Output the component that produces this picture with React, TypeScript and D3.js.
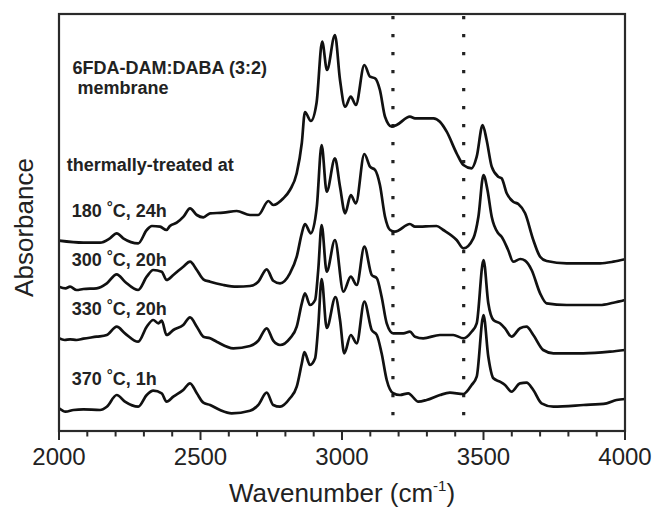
import React from "react";
import * as d3 from "d3";

// Wavenumber (cm-1), absorbance (a.u., curves vertically offset as plotted)
const series180: [number, number][] = [
  [2000, 1.903], [2086, 1.883], [2145, 1.883], [2180, 1.927], [2204, 1.977], [2227, 1.927],
  [2280, 1.877], [2310, 2.01], [2328, 2.05], [2357, 2.043], [2380, 2.01], [2392, 2.05],
  [2416, 2.083], [2440, 2.143], [2463, 2.227], [2487, 2.16], [2510, 2.137], [2534, 2.177],
  [2581, 2.183], [2628, 2.2], [2675, 2.16], [2704, 2.16], [2740, 2.3], [2757, 2.26],
  [2793, 2.327], [2816, 2.41], [2840, 2.577], [2858, 2.88], [2869, 3.19], [2890, 3.1],
  [2910, 3.28], [2930, 3.893], [2947, 3.61], [2975, 3.96], [2993, 3.51], [3011, 3.243],
  [3031, 3.343], [3049, 3.26], [3079, 3.66], [3099, 3.543], [3117, 3.527], [3134, 3.41],
  [3152, 3.143], [3176, 3.043], [3193, 3.06], [3240, 3.143], [3258, 3.127], [3323, 3.127],
  [3346, 3.093], [3370, 2.993], [3405, 2.777], [3429, 2.66], [3458, 2.627], [3476, 2.743],
  [3497, 3.06], [3511, 2.91], [3529, 2.643], [3552, 2.543], [3564, 2.527], [3582, 2.377],
  [3605, 2.293], [3623, 2.27], [3647, 2.177], [3676, 1.91], [3700, 1.743], [3723, 1.7],
  [3794, 1.677], [3912, 1.677], [3959, 1.693], [4000, 1.717],
];

const series300: [number, number][] = [
  [2000, 1.443], [2023, 1.427], [2039, 1.443], [2062, 1.41], [2086, 1.42], [2133, 1.427],
  [2169, 1.477], [2204, 1.567], [2233, 1.493], [2280, 1.41], [2310, 1.543], [2333, 1.61],
  [2363, 1.593], [2380, 1.51], [2404, 1.56], [2439, 1.643], [2463, 1.693], [2487, 1.61],
  [2510, 1.517], [2534, 1.493], [2581, 1.46], [2628, 1.443], [2675, 1.45], [2704, 1.493],
  [2734, 1.617], [2757, 1.503], [2781, 1.477], [2816, 1.577], [2840, 1.743], [2858, 1.977],
  [2869, 2.07], [2890, 1.977], [2911, 2.243], [2928, 2.86], [2946, 2.393], [2975, 2.727],
  [2993, 2.443], [3011, 2.177], [3031, 2.36], [3049, 2.277], [3079, 2.77], [3099, 2.643],
  [3117, 2.61], [3134, 2.46], [3152, 2.143], [3170, 2.01], [3187, 1.993], [3240, 2.07],
  [3258, 2.043], [3334, 2.05], [3358, 2.01], [3405, 1.91], [3429, 1.827], [3464, 1.927],
  [3482, 2.143], [3500, 2.56], [3514, 2.41], [3529, 2.143], [3552, 1.977], [3564, 1.943],
  [3587, 1.81], [3605, 1.693], [3630, 1.72], [3647, 1.703], [3670, 1.61], [3700, 1.377],
  [3723, 1.277], [3794, 1.26], [3912, 1.26], [3959, 1.283], [4000, 1.31],
];

const series330: [number, number][] = [
  [2000, 0.927], [2020, 0.91], [2039, 0.917], [2062, 0.91], [2086, 0.923], [2133, 0.943],
  [2169, 0.96], [2204, 1.043], [2233, 0.977], [2280, 0.893], [2310, 1.043], [2333, 1.11],
  [2351, 1.077], [2363, 1.103], [2380, 0.96], [2404, 1.01], [2439, 1.06], [2463, 1.137],
  [2487, 1.043], [2510, 0.943], [2534, 0.927], [2557, 0.893], [2616, 0.827], [2675, 0.85],
  [2704, 0.903], [2734, 1.027], [2757, 0.903], [2781, 0.86], [2816, 0.927], [2840, 1.043],
  [2858, 1.277], [2869, 1.377], [2887, 1.26], [2905, 1.31], [2916, 1.61], [2928, 2.06],
  [2946, 1.593], [2975, 1.91], [3005, 1.393], [3031, 1.543], [3052, 1.46], [3079, 1.843],
  [3105, 1.56], [3123, 1.527], [3140, 1.343], [3158, 1.077], [3181, 0.977], [3217, 0.977],
  [3240, 0.993], [3258, 0.943], [3287, 0.927], [3346, 0.96], [3393, 0.96], [3429, 0.927],
  [3458, 0.993], [3476, 1.077], [3500, 1.71], [3517, 1.277], [3535, 1.11], [3558, 1.077],
  [3576, 1.027], [3599, 0.943], [3629, 1.027], [3652, 1.043], [3676, 0.96], [3711, 0.81],
  [3747, 0.777], [3853, 0.777], [3947, 0.793], [4000, 0.81],
];

const series370: [number, number][] = [
  [2000, 0.227], [2023, 0.193], [2051, 0.21], [2086, 0.217], [2145, 0.21], [2169, 0.243],
  [2204, 0.36], [2233, 0.293], [2280, 0.243], [2310, 0.36], [2333, 0.403], [2363, 0.377],
  [2380, 0.293], [2404, 0.343], [2439, 0.41], [2463, 0.477], [2487, 0.377], [2510, 0.283],
  [2534, 0.26], [2569, 0.21], [2610, 0.177], [2675, 0.203], [2704, 0.26], [2734, 0.383],
  [2757, 0.26], [2781, 0.243], [2816, 0.327], [2840, 0.443], [2858, 0.677], [2867, 0.79],
  [2887, 0.66], [2905, 0.727], [2916, 1.043], [2928, 1.52], [2946, 1.03], [2977, 1.34],
  [2993, 1.11], [3008, 0.777], [3031, 0.96], [3052, 0.877], [3079, 1.293], [3105, 1.01],
  [3123, 0.96], [3140, 0.777], [3158, 0.51], [3181, 0.377], [3205, 0.36], [3234, 0.377],
  [3270, 0.293], [3299, 0.31], [3346, 0.36], [3381, 0.383], [3429, 0.37], [3458, 0.46],
  [3476, 0.543], [3500, 1.16], [3517, 0.743], [3535, 0.527], [3558, 0.493], [3576, 0.46],
  [3599, 0.393], [3629, 0.477], [3652, 0.483], [3676, 0.41], [3705, 0.277], [3747, 0.243],
  [3853, 0.26], [3935, 0.277], [3970, 0.31], [4000, 0.32],
];

const seriesList = [series180, series300, series330, series370];

const curveLabels: { temp: string; rest: string; y: number }[] = [
  { temp: "180 ", rest: "C, 24h", y: 2.14 },
  { temp: "300 ", rest: "C, 20h", y: 1.65 },
  { temp: "330 ", rest: "C, 20h", y: 1.16 },
  { temp: "370 ", rest: "C, 1h", y: 0.46 },
];

const titleLines = ["6FDA-DAM:DABA (3:2)", " membrane"];
const titleYs = [3.575, 3.375];
const subtitle = "thermally-treated at";
const subtitleY = 2.6;

const markerLines = [3180, 3430];
const majorTicks = [2000, 2500, 3000, 3500, 4000];
const xDomain: [number, number] = [2000, 4000];
const yDomain: [number, number] = [0, 4.17];

const W = 656;
const H = 507;
const margin = { left: 59, right: 31, top: 14, bottom: 76 };
const FONT = "'Liberation Sans', Arial, Helvetica, sans-serif";

export default function App() {
  const x = d3.scaleLinear().domain(xDomain).range([margin.left, W - margin.right]);
  const y = d3.scaleLinear().domain(yDomain).range([H - margin.bottom, margin.top]);
  const line = d3
    .line<[number, number]>()
    .x((d) => x(d[0]))
    .y((d) => y(d[1]))
    .curve(d3.curveMonotoneX);

  const minorTicks = d3.range(xDomain[0], xDomain[1] + 1, 100).filter((t) => !majorTicks.includes(t));
  const y0 = H - margin.bottom;
  const labelX = x(2045);

  return (
    <svg
      width={W}
      height={H}
      style={{ position: "absolute", left: 0, top: 0, background: "#fff" }}
      fontFamily={FONT}
    >
      <rect x={0} y={0} width={W} height={H} fill="#fff" />
      {markerLines.map((m) => (
        <line
          key={m}
          x1={x(m)}
          x2={x(m)}
          y1={y(yDomain[1]) + 2}
          y2={y0}
          stroke="#222"
          strokeWidth={3.2}
          strokeDasharray="3.2 14.8"
        />
      ))}
      {seriesList.map((s, i) => (
        <path key={i} d={line(s) || ""} fill="none" stroke="#111" strokeWidth={2.7} strokeLinejoin="round" />
      ))}
      <rect
        x={margin.left}
        y={margin.top}
        width={W - margin.left - margin.right}
        height={H - margin.top - margin.bottom}
        fill="none"
        stroke="#2a2a2a"
        strokeWidth={2.2}
      />
      {majorTicks.map((t) => (
        <g key={t}>
          <line x1={x(t)} x2={x(t)} y1={y0} y2={y0 + 9} stroke="#2a2a2a" strokeWidth={2} />
          <text x={x(t)} y={465} textAnchor="middle" fontSize={24} fill="#222">
            {t}
          </text>
        </g>
      ))}
      {minorTicks.map((t) => (
        <line key={t} x1={x(t)} x2={x(t)} y1={y0} y2={y0 + 5.5} stroke="#2a2a2a" strokeWidth={2} />
      ))}
      <text x={(margin.left + W - margin.right) / 2} y={502} textAnchor="middle" fontSize={26} fill="#222">
        Wavenumber (cm
        <tspan dy={-11} fontSize={15}>
          -1
        </tspan>
        <tspan dy={11}>)</tspan>
      </text>
      <text
        transform={`translate(33, ${(margin.top + y0) / 2 + 5}) rotate(-90)`}
        textAnchor="middle"
        fontSize={26}
        fill="#222"
      >
        Absorbance
      </text>
      {titleLines.map((t, i) => (
        <text key={i} x={x(2048)} y={y(titleYs[i])} fontSize={18} fontWeight="bold" fill="#222" xmlSpace="preserve">
          {t}
        </text>
      ))}
      <text x={x(2027)} y={y(subtitleY)} fontSize={18} fontWeight="bold" fill="#222">
        {subtitle}
      </text>
      {curveLabels.map((l, i) => (
        <text key={i} x={labelX} y={y(l.y)} fontSize={18} fontWeight="bold" fill="#222" xmlSpace="preserve">
          {l.temp}
          <tspan dy={-5} fontSize={15}>
            °
          </tspan>
          <tspan dy={5}>{l.rest}</tspan>
        </text>
      ))}
    </svg>
  );
}
